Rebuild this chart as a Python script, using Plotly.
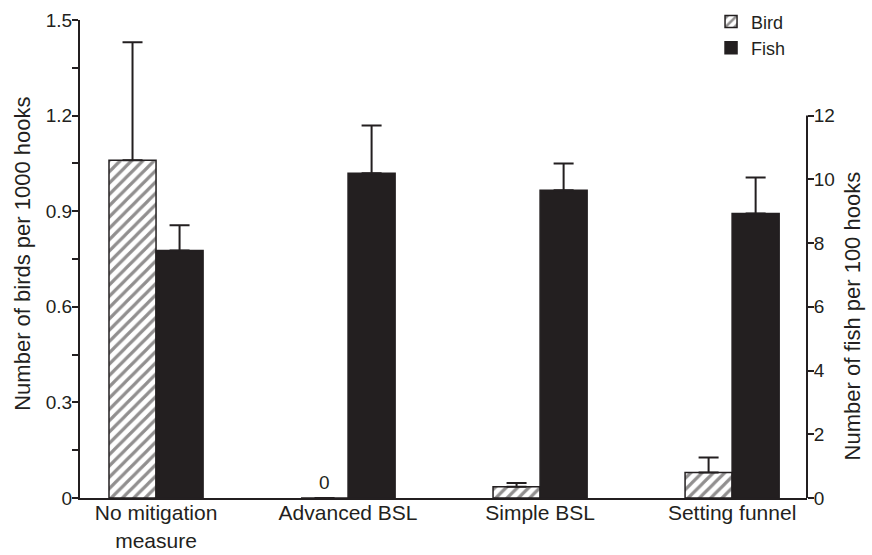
import plotly.graph_objects as go

# Catch rates by mitigation measure
categories = ["No mitigation<br>measure", "Advanced BSL", "Simple BSL", "Setting funnel"]
bird_rate = [1.06, 0.0, 0.035, 0.08]          # birds per 1000 hooks
bird_err = [0.37, 0.0, 0.012, 0.047]
fish_rate = [7.77, 10.19, 9.66, 8.93]          # fish per 100 hooks
fish_err = [0.79, 1.50, 0.84, 1.13]

left_ticks = [0, 0.3, 0.6, 0.9, 1.2, 1.5]
right_ticks = [0, 2, 4, 6, 8, 10, 12]

INK = "#231f20"
FONT = "Liberation Sans, Arial, sans-serif"
BAR_W = 0.245
PX_PER_CAT = 192  # plot width / x range, used to centre labels over the bird bars

fig = go.Figure()

fig.add_trace(go.Bar(
    name="Bird", x=categories, y=bird_rate, yaxis="y",
    width=BAR_W, offset=-BAR_W,
    marker=dict(color="white", line=dict(color=INK, width=1.5),
                pattern=dict(shape="/", fgcolor=INK, bgcolor="white", size=8, solidity=0.4)),
    error_y=dict(type="data", symmetric=False, array=bird_err, arrayminus=[0] * len(bird_err),
                 color=INK, thickness=2, width=10),
))

fig.add_trace(go.Bar(
    name="Fish", x=categories, y=fish_rate, yaxis="y2",
    width=BAR_W, offset=0,
    marker=dict(color=INK, line=dict(color=INK, width=1.5)),
    error_y=dict(type="data", symmetric=False, array=fish_err, arrayminus=[0] * len(fish_err),
                 color=INK, thickness=2, width=10),
))

# Zero-valued bird bars get an explicit "0" label
for cat, val in zip(categories, bird_rate):
    if val == 0:
        fig.add_annotation(text=f"{val:g}", x=cat, y=val, xref="x", yref="y",
                           xshift=-BAR_W * PX_PER_CAT / 2, yshift=3,
                           xanchor="center", yanchor="bottom", showarrow=False,
                           font=dict(size=19, family=FONT, color=INK))

fig.update_layout(
    width=872, height=555,
    margin=dict(l=80, r=65, t=20, b=57, autoexpand=False),
    paper_bgcolor="white", plot_bgcolor="white",
    font=dict(family=FONT, color=INK),
    showlegend=True,
    legend=dict(x=0.868, xanchor="left", y=1.035, yanchor="top",
                font=dict(size=18, family=FONT, color=INK),
                bgcolor="rgba(0,0,0,0)", tracegroupgap=0, itemwidth=30),
    xaxis=dict(range=[-0.396, 3.39], showline=True, linecolor=INK, linewidth=2,
               ticks="", tickfont=dict(size=21), ticklabelstandoff=-5,
               showgrid=False, zeroline=False, automargin=False),
    yaxis=dict(range=[0, 1.5], tickvals=left_ticks, showline=True, linecolor=INK, linewidth=2,
               ticks="outside", ticklen=6, tickwidth=2, tickcolor=INK,
               minor=dict(ticks="outside", dtick=0.15, ticklen=6, tickwidth=2, tickcolor=INK),
               tickfont=dict(size=19), ticklabelstandoff=-4,
               showgrid=False, zeroline=False, automargin=False),
    yaxis2=dict(range=[0, 15], overlaying="y", side="right", tickvals=right_ticks,
                showline=False, ticks="outside", ticklen=6, tickwidth=2, tickcolor=INK,
                tickfont=dict(size=19), ticklabelstandoff=-4,
                showgrid=False, zeroline=False, automargin=False),
)

# Right axis spine covers only the 0-12 span
fig.add_shape(type="line", xref="paper", x0=1, x1=1, yref="y2", y0=0, y1=12,
              line=dict(color=INK, width=2))

fig.add_annotation(text="Number of birds per 1000 hooks", xref="paper", yref="paper",
                   x=-0.079, y=0.51, xanchor="center", yanchor="middle",
                   textangle=-90, showarrow=False,
                   font=dict(size=22, family=FONT, color=INK))
fig.add_annotation(text="Number of fish per 100 hooks", xref="paper", yref="y2",
                   x=1.062, y=5.7, xanchor="center", yanchor="middle",
                   textangle=-90, showarrow=False,
                   font=dict(size=22, family=FONT, color=INK))

fig.write_html("out.html")
